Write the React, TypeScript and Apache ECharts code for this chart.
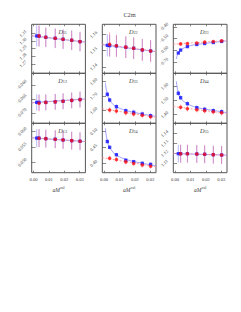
import React, { useEffect, useRef } from "react";
import * as echarts from "echarts";

// ---------------- data ----------------
const figTitle = "C2m";
const xLabelMain = "aM";
const xLabelSup = "val";

const xBlue = [0.0021, 0.0036, 0.008, 0.0141, 0.0192, 0.0248, 0.0302];
const xRed = [0.0036, 0.008, 0.0141, 0.0192, 0.0248, 0.0302];
const xRange = [-0.00116, 0.0337];
const xTicks = [0.0, 0.01, 0.02, 0.03];
const xFitLine = [-0.00116, 0.0337];
const xFitCurve = [0.0008, 0.0012, 0.0021, 0.0036, 0.006, 0.008, 0.012, 0.018, 0.025, 0.0337];

// D11
const d11Range = [1.2576, 1.3221];
const d11Ticks = [1.27, 1.28, 1.29, 1.3, 1.31];
const d11Blue = [1.3068, 1.3066, 1.305, 1.3037, 1.3024, 1.3011, 1.2993];
const d11BlueErr = [0.014, 0.0135, 0.013, 0.013, 0.013, 0.013, 0.013];
const d11Red = [1.3068, 1.305, 1.3037, 1.3024, 1.3011, 1.2993];
const d11RedErr = [0.014, 0.0125, 0.0125, 0.0125, 0.0125, 0.0125];
const d11FitBlue = [1.307, 1.2986];
const d11FitRed = [1.3072, 1.2988];

// D22
const d22Range = [1.136, 1.1663];
const d22Ticks = [1.14, 1.15, 1.16];
const d22Blue = [1.1533, 1.1531, 1.1529, 1.1521, 1.1515, 1.1504, 1.1498];
const d22BlueErr = [0.0068, 0.0068, 0.0066, 0.0066, 0.0066, 0.0066, 0.0066];
const d22Red = [1.1539, 1.153, 1.1522, 1.1515, 1.1505, 1.1498];
const d22RedErr = [0.0075, 0.0068, 0.0068, 0.0068, 0.0068, 0.0068];
const d22FitBlue = [1.1537, 1.1494];
const d22FitRed = [1.154, 1.1495];

// D23
const d23Range = [-0.7974, -0.3765];
const d23Ticks = [-0.7, -0.6, -0.5, -0.4];
const d23Blue = [-0.623, -0.598, -0.568, -0.55, -0.542, -0.533, -0.524];
const d23BlueErr = [0.012, 0.012, 0.012, 0.012, 0.012, 0.012, 0.012];
const d23Red = [-0.545, -0.542, -0.537, -0.53, -0.524, -0.519];
const d23RedErr = [0.012, 0.012, 0.012, 0.012, 0.012, 0.012];
const d23FitBlue = [-0.675, -0.652, -0.622, -0.598, -0.578, -0.567, -0.554, -0.543, -0.532, -0.518];
const d23FitRed = [-0.548, -0.515];

// D12
const d12Range = [-0.0736, -0.0559];
const d12Ticks = [-0.07, -0.065, -0.06];
const d12Blue = [-0.0662, -0.0662, -0.0662, -0.066, -0.0658, -0.0655, -0.0652];
const d12BlueErr = [0.0029, 0.0029, 0.0028, 0.0028, 0.0028, 0.0028, 0.0028];
const d12Red = [-0.0665, -0.0662, -0.066, -0.0658, -0.0655, -0.0652];
const d12RedErr = [0.0029, 0.0028, 0.0028, 0.0028, 0.0028, 0.0028];
const d12FitBlue = [-0.0663, -0.065];
const d12FitRed = [-0.0664, -0.065];

// D33
const d33Range = [1.5117, 1.8566];
const d33Ticks = [1.6, 1.7, 1.8];
const d33Blue = [1.7117, 1.6724, 1.6262, 1.5986, 1.5876, 1.5759, 1.5641];
const d33BlueErr = [0.018, 0.018, 0.018, 0.018, 0.018, 0.018, 0.018];
const d33Red = [1.6034, 1.5966, 1.5848, 1.5759, 1.5669, 1.5572];
const d33RedErr = [0.02, 0.02, 0.02, 0.02, 0.02, 0.02];
const d33FitBlue = [1.79, 1.76, 1.712, 1.672, 1.64, 1.626, 1.607, 1.59, 1.576, 1.558];
const d33FitRed = [1.612, 1.553];

// D44
const d44Range = [1.3394, 1.6915];
const d44Ticks = [1.4, 1.5, 1.6];
const d44Blue = [1.5507, 1.5197, 1.4775, 1.4493, 1.438, 1.4282, 1.4211];
const d44BlueErr = [0.018, 0.018, 0.018, 0.018, 0.018, 0.018, 0.018];
const d44Red = [1.4521, 1.4423, 1.4352, 1.4282, 1.4211, 1.4141];
const d44RedErr = [0.02, 0.02, 0.02, 0.02, 0.02, 0.02];
const d44FitBlue = [1.635, 1.603, 1.552, 1.515, 1.49, 1.477, 1.457, 1.442, 1.43, 1.414];
const d44FitRed = [1.458, 1.408];

// D13
const d13Range = [0.0466, 0.0626];
const d13Ticks = [0.05, 0.055, 0.06];
const d13Blue = [0.0578, 0.0578, 0.05763, 0.05744, 0.05721, 0.05698, 0.05679];
const d13BlueErr = [0.0029, 0.0029, 0.0029, 0.0029, 0.0029, 0.0029, 0.0029];
const d13Red = [0.05776, 0.05763, 0.05744, 0.05721, 0.05698, 0.05679];
const d13RedErr = [0.0029, 0.0029, 0.0029, 0.0029, 0.0029, 0.0029];
const d13FitBlue = [0.0579, 0.0567];
const d13FitRed = [0.0579, 0.0567];

// D34
const d34Range = [0.3703, 0.5266];
const d34Ticks = [0.4, 0.45, 0.5];
const d34Blue = [0.469, 0.4506, 0.4272, 0.4098, 0.4051, 0.4, 0.3968];
const d34BlueErr = [0.006, 0.006, 0.006, 0.006, 0.006, 0.006, 0.006];
const d34Red = [0.4161, 0.412, 0.4047, 0.3994, 0.3946, 0.3908];
const d34RedErr = [0.008, 0.008, 0.008, 0.008, 0.008, 0.008];
const d34FitBlue = [0.511, 0.495, 0.47, 0.45, 0.434, 0.426, 0.416, 0.407, 0.4, 0.392];
const d34FitRed = [0.418, 0.389];

// D55
const d55Range = [1.1002, 1.1506];
const d55Ticks = [1.11, 1.12, 1.13, 1.14];
const d55Blue = [1.1196, 1.1196, 1.1196, 1.1193, 1.119, 1.1186, 1.1183];
const d55BlueErr = [0.009, 0.009, 0.009, 0.009, 0.009, 0.009, 0.009];
const d55Red = [1.1196, 1.1196, 1.1193, 1.119, 1.1186, 1.1183];
const d55RedErr = [0.0092, 0.0092, 0.0092, 0.0092, 0.0092, 0.0092];
const d55FitBlue = [1.1198, 1.1181];
const d55FitRed = [1.1198, 1.1181];

// ---------------- layout / style ----------------
const W = 241;
const H = 312;
const FONT = "'Liberation Serif', 'DejaVu Serif', serif";
const TXT = "#444";
const FRAME = "#555";
const colLeft = [31.7, 102.3, 173.3];
const colWidth = 53.7;
const rowTop = [24.3, 73.3, 123.3];
const rowHeight = [49, 50, 49.4];
const tickFont = 4.6;

type Panel = {
  name: string;
  row: number;
  col: number;
  range: number[];
  ticks: number[];
  dec: number;
  blue: number[];
  blueErr: number[];
  red: number[];
  redErr: number[];
  fitBX: number[];
  fitB: number[];
  fitR: number[];
};

const panels: Panel[] = [
  { name: "11", row: 0, col: 0, range: d11Range, ticks: d11Ticks, dec: 2, blue: d11Blue, blueErr: d11BlueErr, red: d11Red, redErr: d11RedErr, fitBX: xFitLine, fitB: d11FitBlue, fitR: d11FitRed },
  { name: "22", row: 0, col: 1, range: d22Range, ticks: d22Ticks, dec: 2, blue: d22Blue, blueErr: d22BlueErr, red: d22Red, redErr: d22RedErr, fitBX: xFitLine, fitB: d22FitBlue, fitR: d22FitRed },
  { name: "23", row: 0, col: 2, range: d23Range, ticks: d23Ticks, dec: 2, blue: d23Blue, blueErr: d23BlueErr, red: d23Red, redErr: d23RedErr, fitBX: xFitCurve, fitB: d23FitBlue, fitR: d23FitRed },
  { name: "12", row: 1, col: 0, range: d12Range, ticks: d12Ticks, dec: 3, blue: d12Blue, blueErr: d12BlueErr, red: d12Red, redErr: d12RedErr, fitBX: xFitLine, fitB: d12FitBlue, fitR: d12FitRed },
  { name: "33", row: 1, col: 1, range: d33Range, ticks: d33Ticks, dec: 2, blue: d33Blue, blueErr: d33BlueErr, red: d33Red, redErr: d33RedErr, fitBX: xFitCurve, fitB: d33FitBlue, fitR: d33FitRed },
  { name: "44", row: 1, col: 2, range: d44Range, ticks: d44Ticks, dec: 2, blue: d44Blue, blueErr: d44BlueErr, red: d44Red, redErr: d44RedErr, fitBX: xFitCurve, fitB: d44FitBlue, fitR: d44FitRed },
  { name: "13", row: 2, col: 0, range: d13Range, ticks: d13Ticks, dec: 3, blue: d13Blue, blueErr: d13BlueErr, red: d13Red, redErr: d13RedErr, fitBX: xFitLine, fitB: d13FitBlue, fitR: d13FitRed },
  { name: "34", row: 2, col: 1, range: d34Range, ticks: d34Ticks, dec: 2, blue: d34Blue, blueErr: d34BlueErr, red: d34Red, redErr: d34RedErr, fitBX: xFitCurve, fitB: d34FitBlue, fitR: d34FitRed },
  { name: "55", row: 2, col: 2, range: d55Range, ticks: d55Ticks, dec: 2, blue: d55Blue, blueErr: d55BlueErr, red: d55Red, redErr: d55RedErr, fitBX: xFitLine, fitB: d55FitBlue, fitR: d55FitRed },
];

const fmt = (v: number, dec: number) => {
  const s = Math.abs(v).toFixed(dec);
  return v < 0 ? "\u2212" + s : s;
};

function buildOption(measure: (s: string) => number) {
  const grid: any[] = [];
  const xAxis: any[] = [];
  const yAxis: any[] = [];
  const series: any[] = [];
  const graphic: any[] = [];

  graphic.push({
    type: "text",
    x: 129.5,
    y: 14,
    style: { text: figTitle, font: `6.3px ${FONT}`, fill: TXT, align: "center", verticalAlign: "middle" },
  });

  panels.forEach((p, i) => {
    grid.push({
      left: colLeft[p.col],
      top: rowTop[p.row],
      width: colWidth,
      height: rowHeight[p.row],
      show: true,
      borderColor: FRAME,
      borderWidth: 1,
      backgroundColor: "transparent",
      containLabel: false,
      outerBoundsMode: "none",
    });
    const tickStyle = { color: FRAME, width: 0.7 };
    const bottom = p.row === 2;
    xAxis.push({
      type: "value",
      gridIndex: i,
      position: "bottom",
      min: xRange[0],
      max: xRange[1],
      axisLine: { show: false },
      splitLine: { show: false },
      axisTick: { show: true, inside: true, length: 2, customValues: xTicks, lineStyle: tickStyle },
      axisLabel: {
        show: bottom,
        customValues: xTicks,
        formatter: (v: number) => fmt(v, 2),
        fontSize: tickFont,
        fontFamily: FONT,
        color: TXT,
        margin: 4,
      },
      name: bottom ? `{i|${xLabelMain}}{s|${xLabelSup}}` : "",
      nameLocation: "middle",
      nameGap: 13.5,
      nameTextStyle: {
        rich: {
          i: { fontFamily: FONT, fontStyle: "italic", fontSize: 5.6, color: TXT, lineHeight: 7 },
          s: { fontFamily: FONT, fontSize: 3.9, color: TXT, verticalAlign: "top", lineHeight: 7 },
        },
      },
    });
    xAxis.push({
      type: "value",
      gridIndex: i,
      position: "top",
      min: xRange[0],
      max: xRange[1],
      axisLine: { show: false },
      splitLine: { show: false },
      axisTick: { show: true, inside: true, length: 2, customValues: xTicks, lineStyle: tickStyle },
      axisLabel: { show: false, customValues: xTicks },
    });
    const labels = p.ticks.map((t) => fmt(t, p.dec));
    const maxL = Math.max(...labels.map((s) => measure(s)));
    const margin = 4.2 + (maxL + tickFont) * 0.3536;
    yAxis.push({
      type: "value",
      gridIndex: i,
      position: "left",
      min: p.range[0],
      max: p.range[1],
      axisLine: { show: false },
      splitLine: { show: false },
      axisTick: { show: true, inside: true, length: 2, customValues: p.ticks, lineStyle: tickStyle },
      axisLabel: {
        show: true,
        customValues: p.ticks,
        formatter: (v: number) => fmt(v, p.dec),
        rotate: 45,
        align: "center",
        verticalAlign: "middle",
        margin,
        fontSize: tickFont,
        fontFamily: FONT,
        color: TXT,
      },
    });
    yAxis.push({
      type: "value",
      gridIndex: i,
      position: "right",
      min: p.range[0],
      max: p.range[1],
      axisLine: { show: false },
      splitLine: { show: false },
      axisTick: { show: true, inside: true, length: 2, customValues: p.ticks, lineStyle: tickStyle },
      axisLabel: { show: false, customValues: p.ticks },
    });

    const xi = 2 * i;
    const yi = 2 * i;

    const errSeries = (xs: number[], vs: number[], es: number[], color: string) => ({
      type: "custom",
      xAxisIndex: xi,
      yAxisIndex: yi,
      clip: true,
      silent: true,
      encode: { x: 0, y: [1, 2] },
      data: xs.map((x, k) => [x, vs[k] - es[k], vs[k] + es[k]]),
      renderItem: (params: any, api: any) => {
        const x = api.value(0);
        const a = api.coord([x, api.value(1)]);
        const b = api.coord([x, api.value(2)]);
        return {
          type: "line",
          shape: { x1: a[0], y1: a[1], x2: b[0], y2: b[1] },
          style: { stroke: color, lineWidth: 1 },
        };
      },
      z: 2,
    });

    // fit lines
    series.push({
      type: "line",
      xAxisIndex: xi,
      yAxisIndex: yi,
      data: p.fitBX.map((x, k) => [x, p.fitB[k]]),
      smooth: p.fitBX.length > 2 ? 0.35 : false,
      showSymbol: false,
      symbol: "none",
      clip: true,
      lineStyle: { color: "#8a8aff", width: 0.8 },
      silent: true,
      z: 1,
    });
    series.push({
      type: "line",
      xAxisIndex: xi,
      yAxisIndex: yi,
      data: xFitLine.map((x, k) => [x, p.fitR[k]]),
      showSymbol: false,
      symbol: "none",
      clip: true,
      lineStyle: { color: "#ff8a8a", width: 0.8, type: [2, 1.5] },
      silent: true,
      z: 1,
    });
    series.push(errSeries(xBlue, p.blue, p.blueErr, "rgba(40,40,255,0.32)"));
    series.push(errSeries(xRed, p.red, p.redErr, "rgba(255,20,60,0.32)"));
    series.push({
      type: "scatter",
      xAxisIndex: xi,
      yAxisIndex: yi,
      data: xBlue.map((x, k) => [x, p.blue[k]]),
      symbol: "rect",
      symbolSize: 3.3,
      itemStyle: { color: "#1010ff" },
      silent: true,
      z: 3,
    });
    series.push({
      type: "scatter",
      xAxisIndex: xi,
      yAxisIndex: yi,
      data: xRed.map((x, k) => [x, p.red[k]]),
      symbol: "circle",
      symbolSize: 3.6,
      itemStyle: { color: "#ff1010" },
      silent: true,
      z: 4,
    });

    graphic.push({
      type: "text",
      x: colLeft[p.col] + 31,
      y: rowTop[p.row] + 6.8,
      z: 10,
      style: {
        text: `{d|D}{s|${p.name}}`,
        align: "center",
        verticalAlign: "middle",
        rich: {
          d: { fontFamily: FONT, fontStyle: "italic", fontSize: 6.2, fill: TXT, lineHeight: 7 },
          s: { fontFamily: FONT, fontSize: 4.2, fill: TXT, verticalAlign: "bottom", lineHeight: 7 },
        },
      },
    });
  });

  return {
    animation: false,
    backgroundColor: "#fff",
    grid,
    xAxis,
    yAxis,
    series,
    graphic,
  };
}

export default function App() {
  const ref = useRef<HTMLDivElement>(null);
  useEffect(() => {
    if (!ref.current) return;
    const canvas = document.createElement("canvas");
    const ctx = canvas.getContext("2d");
    const measure = (s: string) => {
      if (!ctx) return s.length * tickFont * 0.5;
      ctx.font = `${tickFont}px ${FONT}`;
      return ctx.measureText(s).width;
    };
    const chart = echarts.init(ref.current, undefined, { renderer: "svg", width: W, height: H });
    chart.setOption(buildOption(measure) as any);
    return () => chart.dispose();
  }, []);
  return (
    <div
      ref={ref}
      style={{ position: "fixed", left: 0, top: 0, width: W, height: H, background: "#fff" }}
    />
  );
}
